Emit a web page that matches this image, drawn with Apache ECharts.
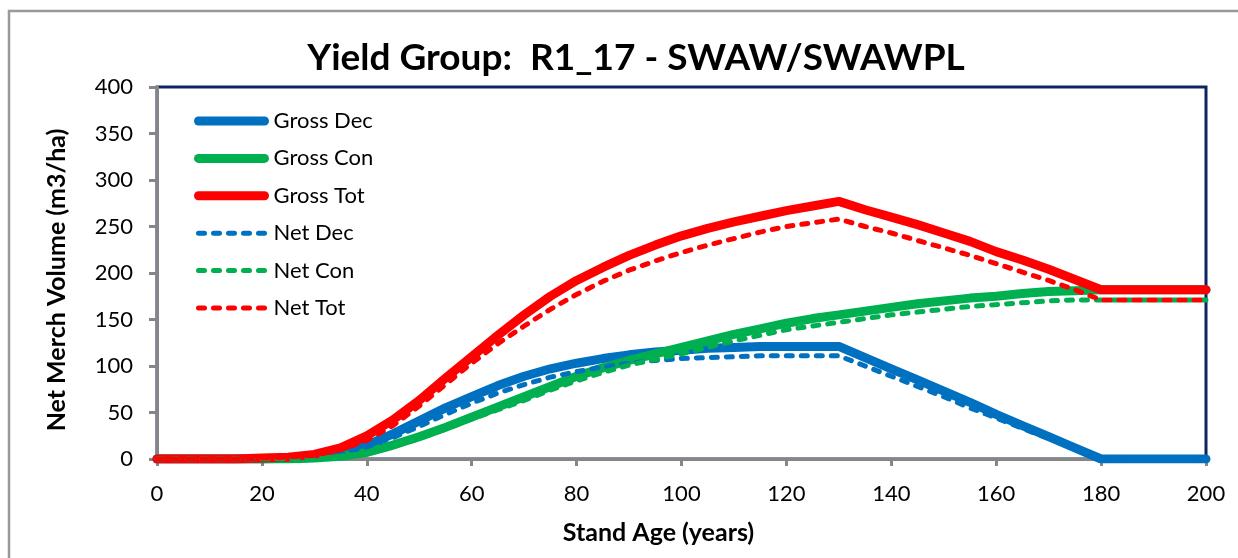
<!DOCTYPE html>
<html>
<head>
<meta charset="utf-8">
<title>Yield Group: R1_17 - SWAW/SWAWPL</title>
<script src="https://cdn.jsdelivr.net/npm/echarts@6/dist/echarts.min.js"></script>
<style>
  html, body { margin: 0; padding: 0; background: #ffffff; }
  #chart { width: 1238px; height: 558px; }
</style>
</head>
<body>
<div id="chart"></div>
<script>
// Stand age (years), 5-year steps
const ages = [0, 5, 10, 15, 20, 25, 30, 35, 40, 45, 50, 55, 60, 65, 70, 75, 80, 85, 90, 95, 100,
  105, 110, 115, 120, 125, 130, 135, 140, 145, 150, 155, 160, 165, 170, 175, 180, 185, 190, 195, 200];

// Merchantable volume (m3/ha) by stand age
const grossDec = [0, 0, 0, 0, 0, 1, 3, 8, 15, 27, 41, 55, 67, 79, 89, 97, 103, 108, 112, 115, 117,
  119, 120, 121, 121, 121, 121, 109, 97, 85, 73, 61, 48, 36, 24, 12, 0, 0, 0, 0, 0];
const grossCon = [0, 0, 0, 0, 0, 0, 1, 3, 7, 15, 24, 34, 45, 56, 67, 78, 89, 98, 106, 113, 120,
  127, 134, 140, 146, 151, 155, 159, 163, 167, 170, 173, 175, 178, 180, 181, 182, 182, 182, 182, 182];
const grossTot = [0, 0, 0, 0, 1, 2, 5, 12, 25, 42, 63, 87, 110, 133, 155, 175, 192, 206, 219, 230, 240,
  248, 255, 261, 267, 272, 277, 268, 260, 252, 243, 234, 223, 214, 204, 193, 182, 182, 182, 182, 182];
const netDec = [0, 0, 0, 0, 0, 0, 2, 6, 13, 23, 35, 48, 60, 71, 80, 88, 94, 99, 103, 106, 108,
  109, 110, 111, 111, 111, 111, 100, 89, 78, 67, 55, 44, 33, 22, 11, 0, 0, 0, 0, 0];
const netCon = [0, 0, 0, 0, 0, 0, 1, 3, 6, 13, 22, 32, 43, 53, 63, 74, 84, 93, 101, 107, 113,
  120, 127, 133, 139, 143, 147, 151, 155, 158, 161, 164, 166, 168, 170, 171, 171, 171, 171, 171, 171];
const netTot = [0, 0, 0, 0, 1, 2, 4, 10, 20, 36, 57, 80, 103, 124, 143, 161, 177, 191, 203, 213, 222,
  230, 237, 244, 250, 254, 258, 250, 243, 235, 227, 219, 210, 201, 192, 182, 171, 171, 171, 171, 171];

const seriesNames = ['Gross Dec', 'Gross Con', 'Gross Tot', 'Net Dec', 'Net Con', 'Net Tot'];
const seriesValues = [grossDec, grossCon, grossTot, netDec, netCon, netTot];
const seriesColors = ['#0070C0', '#00B050', '#FF0000', '#0070C0', '#00B050', '#FF0000'];

const FONT = 'Lato';
const SOLID_W = 9;
const DASH_W = 5;
const DASH = [6, 9];

function pairs(values) {
  return ages.map((a, i) => [a, values[i]]);
}

function isNet(name) {
  return name.startsWith('Net');
}

const series = seriesNames.map((name, i) => {
  const dashed = isNet(name);
  return {
    name: name,
    type: 'line',
    data: pairs(seriesValues[i]),
    symbol: 'none',
    smooth: false,
    z: 2 + i,
    lineStyle: {
      color: seriesColors[i],
      width: dashed ? DASH_W : SOLID_W,
      type: dashed ? DASH : 'solid',
      cap: 'round',
      join: 'round'
    },
    itemStyle: { color: seriesColors[i] }
  };
});

// Legend entries: line swatches only, no point marker
const legendData = seriesNames.map((name, i) => ({
  name: name,
  itemStyle: { color: 'rgba(0,0,0,0)', borderWidth: 0, opacity: 0 },
  lineStyle: {
    color: seriesColors[i],
    width: isNet(name) ? DASH_W : SOLID_W,
    type: isNet(name) ? DASH : 'solid',
    cap: 'round',
    opacity: 1
  }
}));

const chart = echarts.init(document.getElementById('chart'), null, { renderer: 'canvas' });

chart.setOption({
  animation: false,
  backgroundColor: '#ffffff',
  textStyle: { fontFamily: FONT },
  graphic: [{
    type: 'rect',
    shape: { x: 9, y: 11, width: 1300, height: 700 },
    style: { fill: 'none', stroke: '#999999', lineWidth: 2.5 },
    silent: true,
    z: -10
  }],
  title: {
    text: 'Yield Group:  R1_17 - SWAW/SWAWPL',
    left: 631,
    textAlign: 'center',
    top: 35,
    textStyle: { fontFamily: FONT, fontWeight: 'bold', fontSize: 37, color: '#000000' }
  },
  legend: {
    orient: 'vertical',
    left: 194,
    top: 110,
    padding: 0,
    itemWidth: 66,
    itemHeight: 14,
    itemGap: 15.4,
    data: legendData,
    textStyle: { fontFamily: FONT, fontSize: 22, color: '#000000', lineHeight: 22, padding: [0, 0, 0, 4] }
  },
  grid: {
    left: 157,
    right: 32,
    top: 87,
    bottom: 99,
    show: true,
    borderColor: '#0C2461',
    borderWidth: 3,
    backgroundColor: 'transparent'
  },
  xAxis: {
    type: 'value',
    min: 0,
    max: 200,
    interval: 20,
    name: 'Stand Age (years)',
    nameLocation: 'middle',
    nameGap: 61,
    nameTextStyle: { fontFamily: FONT, fontWeight: 'bold', fontSize: 25, color: '#000000', padding: [0, 46, 0, 0] },
    axisLine: { show: true, lineStyle: { color: '#868686', width: 3 } },
    axisTick: { show: true, length: 7, lineStyle: { color: '#868686', width: 3 } },
    axisLabel: { margin: 24, fontFamily: FONT, fontSize: 22, color: '#000000' },
    splitLine: { show: false }
  },
  yAxis: {
    type: 'value',
    min: 0,
    max: 400,
    interval: 50,
    name: 'Net Merch Volume (m3/ha)',
    nameLocation: 'middle',
    nameGap: 88,
    nameTextStyle: { fontFamily: FONT, fontWeight: 'bold', fontSize: 25, color: '#000000', padding: [0, 14, 0, 0] },
    axisLine: { show: true, lineStyle: { color: '#868686', width: 3 } },
    axisTick: { show: true, length: 8, lineStyle: { color: '#868686', width: 3 } },
    axisLabel: { margin: 24, fontFamily: FONT, fontSize: 22, color: '#000000' },
    splitLine: { show: false }
  },
  series: series
});
</script>
</body>
</html>
